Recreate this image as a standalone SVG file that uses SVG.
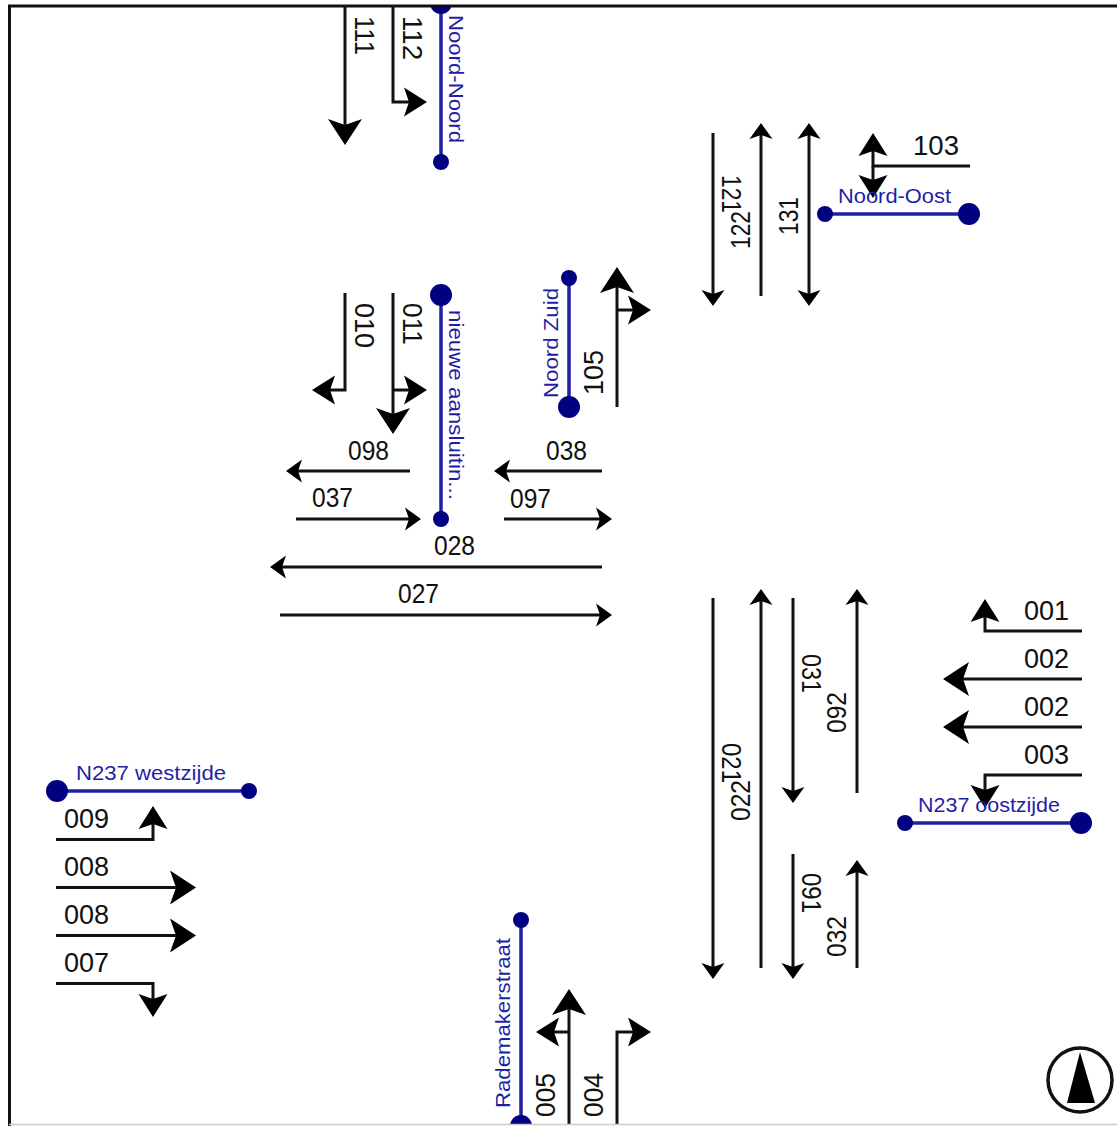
<svg xmlns="http://www.w3.org/2000/svg" width="1117" height="1126" viewBox="0 0 1117 1126">
<style>
.c{fill:none;stroke:#111;stroke-width:3}
.big{marker-end:url(#mb)}.med{marker-end:url(#mm)}.sm{marker-end:url(#ms)}
.l{fill:#111;font-family:"Liberation Sans",Arial,sans-serif;font-size:27px}
.n{fill:#1f1fa6;font-family:"Liberation Sans",Arial,sans-serif;font-size:21px}
.r{stroke:#2020a0;stroke-width:3.5;fill:none}
.d{fill:#000080}
</style>
<defs>
<marker id="mb" markerUnits="userSpaceOnUse" markerWidth="30" markerHeight="38" refX="19" refY="19" orient="auto" viewBox="0 0 30 38"><path d="M27 19L1 2L7 19L1 36Z" fill="#000"/></marker>
<marker id="mm" markerUnits="userSpaceOnUse" markerWidth="28" markerHeight="32" refX="17" refY="16" orient="auto" viewBox="0 0 28 32"><path d="M25 16L2 1.500L7 16L2 30.500Z" fill="#000"/></marker>
<marker id="ms" markerUnits="userSpaceOnUse" markerWidth="20" markerHeight="26" refX="9" refY="13" orient="auto" viewBox="0 0 20 26"><path d="M17 13L1 1.500L5 13L1 24.500Z" fill="#000"/></marker>
<marker id="msb" markerUnits="userSpaceOnUse" markerWidth="20" markerHeight="26" refX="9" refY="13" orient="auto-start-reverse" viewBox="0 0 20 26"><path d="M17 13L1 1.500L5 13L1 24.500Z" fill="#000"/></marker>
<clipPath id="area"><rect x="0" y="6" width="1117" height="1118"/></clipPath>
</defs>
<rect width="1117" height="1126" fill="#fff"/>
<g clip-path="url(#area)">
<g id="connectors">
<path class="c big" d="M345 6V137"/>
<path class="c med" d="M393 6V102H419"/>
<path class="c med" d="M345 293V390H320"/>
<path class="c big" d="M393 293V426"/>
<path class="c med" d="M393 390H419"/>
<path class="c big" d="M617 407V275"/>
<path class="c med" d="M617 310H643"/>
<path class="c sm" d="M410 471H294"/>
<path class="c sm" d="M296 519H413"/>
<path class="c sm" d="M602 471H502"/>
<path class="c sm" d="M504 519H604"/>
<path class="c sm" d="M602 567H278"/>
<path class="c sm" d="M280 615H604"/>
<path class="c sm" d="M713 133V298"/>
<path class="c sm" d="M761 296V131"/>
<path class="c" style="marker-end:url(#msb);marker-start:url(#msb)" d="M809 131V298"/>
<path class="c med" d="M970 166H873V141"/>
<path class="c med" d="M873 166V190"/>
<path class="c sm" d="M713 598V971"/>
<path class="c sm" d="M761 968V597"/>
<path class="c sm" d="M793 598V795"/>
<path class="c sm" d="M857 793V597"/>
<path class="c sm" d="M793 854V971"/>
<path class="c sm" d="M857 968V868"/>
<path class="c med" d="M1082 631H985V607"/>
<path class="c big" d="M1082 679H951"/>
<path class="c big" d="M1082 727H951"/>
<path class="c med" d="M1082 775H985V800"/>
<path class="c med" d="M56 839.500H153V814"/>
<path class="c big" d="M56 887.500H188"/>
<path class="c big" d="M56 935.500H188"/>
<path class="c med" d="M56 983.500H153V1009"/>
<path class="c big" d="M569 1130V997"/>
<path class="c med" d="M569 1032H544"/>
<path class="c med" d="M617 1130V1032H643"/>
<g id="connector-labels">
<text class="l" textLength="39" lengthAdjust="spacingAndGlyphs" transform="translate(355 16) rotate(90)">111</text>
<text class="l" textLength="44" lengthAdjust="spacingAndGlyphs" transform="translate(403 16) rotate(90)">112</text>
<text class="l" textLength="45" lengthAdjust="spacingAndGlyphs" transform="translate(355 303) rotate(90)">010</text>
<text class="l" textLength="42" lengthAdjust="spacingAndGlyphs" transform="translate(403 303) rotate(90)">011</text>
<text class="l" textLength="41" lengthAdjust="spacingAndGlyphs" x="348" y="460">098</text>
<text class="l" textLength="41" lengthAdjust="spacingAndGlyphs" x="312" y="507">037</text>
<text class="l" textLength="41" lengthAdjust="spacingAndGlyphs" x="546" y="460">038</text>
<text class="l" textLength="41" lengthAdjust="spacingAndGlyphs" x="510" y="508">097</text>
<text class="l" textLength="41" lengthAdjust="spacingAndGlyphs" x="434" y="555">028</text>
<text class="l" textLength="41" lengthAdjust="spacingAndGlyphs" x="398" y="603">027</text>
<text class="l" textLength="45" lengthAdjust="spacingAndGlyphs" transform="translate(603 395) rotate(-90)">105</text>
<text class="l" textLength="46" lengthAdjust="spacingAndGlyphs" x="913" y="155">103</text>
<text class="l" textLength="38" lengthAdjust="spacingAndGlyphs" transform="translate(722 175) rotate(90)">121</text>
<text class="l" textLength="38" lengthAdjust="spacingAndGlyphs" transform="translate(750 249) rotate(-90)">122</text>
<text class="l" textLength="38" lengthAdjust="spacingAndGlyphs" transform="translate(798 235) rotate(-90)">131</text>
<text class="l" x="1024" y="620">001</text>
<text class="l" x="1024" y="668">002</text>
<text class="l" x="1024" y="716">002</text>
<text class="l" x="1024" y="764">003</text>
<text class="l" textLength="39" lengthAdjust="spacingAndGlyphs" transform="translate(802 654) rotate(90)">031</text>
<text class="l" textLength="41" lengthAdjust="spacingAndGlyphs" transform="translate(846 733) rotate(-90)">092</text>
<text class="l" textLength="40" lengthAdjust="spacingAndGlyphs" transform="translate(722 743) rotate(90)">021</text>
<text class="l" textLength="41" lengthAdjust="spacingAndGlyphs" transform="translate(750 821) rotate(-90)">022</text>
<text class="l" textLength="40" lengthAdjust="spacingAndGlyphs" transform="translate(802 873) rotate(90)">091</text>
<text class="l" textLength="41" lengthAdjust="spacingAndGlyphs" transform="translate(846 957) rotate(-90)">032</text>
<text class="l" x="64" y="828">009</text>
<text class="l" x="64" y="876">008</text>
<text class="l" x="64" y="924">008</text>
<text class="l" x="64" y="972">007</text>
<text class="l" textLength="44" lengthAdjust="spacingAndGlyphs" transform="translate(555 1117) rotate(-90)">005</text>
<text class="l" textLength="44" lengthAdjust="spacingAndGlyphs" transform="translate(603 1117) rotate(-90)">004</text>
</g>
</g>
<g id="node-noord-noord">
<path class="r" d="M441 3V162"/><circle class="d" cx="441" cy="3" r="11"/><circle class="d" cx="441" cy="162" r="8"/>
<text class="n" textLength="128" lengthAdjust="spacingAndGlyphs" transform="translate(449 15) rotate(90)">Noord-Noord</text>
</g>
<g id="node-noord-oost">
<path class="r" d="M825 214H969"/><circle class="d" cx="825" cy="214" r="8"/><circle class="d" cx="969" cy="214" r="11"/>
<text class="n" textLength="113" lengthAdjust="spacingAndGlyphs" x="838" y="203">Noord-Oost</text>
</g>
<g id="node-nieuwe-aansluiting">
<path class="r" d="M441 295V519"/><circle class="d" cx="441" cy="295" r="11"/><circle class="d" cx="441" cy="519" r="8"/>
<text class="n" textLength="190" lengthAdjust="spacingAndGlyphs" transform="translate(449 310) rotate(90)">nieuwe aansluitin...</text>
</g>
<g id="node-noord-zuid">
<path class="r" d="M569 278V407"/><circle class="d" cx="569" cy="278" r="8"/><circle class="d" cx="569" cy="407" r="11"/>
<text class="n" textLength="110" lengthAdjust="spacingAndGlyphs" transform="translate(558 398) rotate(-90)">Noord Zuid</text>
</g>
<g id="node-n237-west">
<path class="r" d="M57 791H249"/><circle class="d" cx="57" cy="791" r="11"/><circle class="d" cx="249" cy="791" r="8"/>
<text class="n" textLength="150" lengthAdjust="spacingAndGlyphs" x="76" y="780">N237 westzijde</text>
</g>
<g id="node-n237-oost">
<path class="r" d="M905 823H1081"/><circle class="d" cx="905" cy="823" r="8"/><circle class="d" cx="1081" cy="823" r="11"/>
<text class="n" textLength="142" lengthAdjust="spacingAndGlyphs" x="918" y="812">N237 oostzijde</text>
</g>
<g id="node-rademakerstraat">
<path class="r" d="M521 920V1126"/><circle class="d" cx="521" cy="920" r="8"/><circle class="d" cx="521" cy="1126" r="11"/>
<text class="n" textLength="170" lengthAdjust="spacingAndGlyphs" transform="translate(510 1108) rotate(-90)">Rademakerstraat</text>
</g>
<g id="north-arrow">
<circle cx="1080" cy="1080" r="32" fill="none" stroke="#111" stroke-width="3.500"/>
<path d="M1080 1052L1095 1103H1067Z" fill="#000"/>
</g>
</g>
<path d="M9.500 1126V6H1117" fill="none" stroke="#111" stroke-width="3"/>
<path d="M9 1124.500H1117" fill="none" stroke="#ccc" stroke-width="1.500"/>
</svg>
